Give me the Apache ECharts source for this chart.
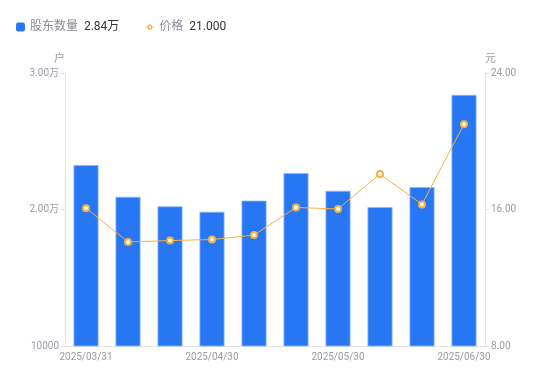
<!DOCTYPE html>
<html><head><meta charset="utf-8">
<script src="https://cdn.jsdelivr.net/npm/echarts@6/dist/echarts.min.js"></script>
<style>html,body{margin:0;padding:0;background:#fff}#c{width:550px;height:381px}</style>
</head><body><div id="c"></div>
<script>
var categories = ['2025/03/31','2025/04/10','2025/04/20','2025/04/30','2025/05/10','2025/05/20','2025/05/30','2025/06/10','2025/06/20','2025/06/30'];
var holders = [23250, 20930, 20230, 19830, 20650, 22670, 21370, 20180, 21640, 28400];
var prices = [16.08, 14.10, 14.18, 14.24, 14.50, 16.12, 16.03, 18.08, 16.30, 21.00];
var leftTicks = [10000, 20000, 30000];
var rightTicks = [8, 16, 24];

var chart = echarts.init(document.getElementById('c'));
var font = 'Roboto, "Noto Sans CJK SC", sans-serif';
var grayTxt = '#9a9aa6';
chart.setOption({
  animation: false,
  textStyle: {fontFamily: font},
  legend: {
    left: 11, top: 16, itemWidth: 9, itemHeight: 9, itemGap: 26,
    data: [
      {name: '股东数量', icon: 'roundRect', itemStyle: {color: '#2777F5', borderWidth: 0}},
      {name: '价格', icon: 'path://M0,4 L3,4 A3,3 0 1 1 9,4 L12,4 L12,5 L9,5 A3,3 0 1 1 3,5 L0,5 Z M4.5,4.5 A1.5,1.5 0 1 0 7.5,4.5 A1.5,1.5 0 1 0 4.5,4.5 Z', itemStyle: {color: '#F8B03F', borderWidth: 0}}
    ],
    formatter: function (n) {
      if (n === '股东数量') return '{a|' + n + '}  {b|' + (holders[holders.length-1]/10000).toFixed(2) + '万}';
      return '{a|' + n + '}  {b|' + prices[prices.length-1].toFixed(3) + '}';
    },
    textStyle: {rich: {a: {color: '#8a8a98', fontSize: 12, fontFamily: font}, b: {color: '#333', fontSize: 12, fontFamily: font}}}
  },
  grid: {left: 65, right: 65, top: 73, bottom: 35},
  xAxis: {
    type: 'category', data: categories,
    axisLine: {lineStyle: {color: '#e3e3e3'}},
    axisTick: {show: false},
    axisLabel: {color: grayTxt, fontSize: 10, interval: 2, margin: 6, fontFamily: font}
  },
  yAxis: [
    {
      type: 'value', min: leftTicks[0], max: leftTicks[2], interval: 10000,
      name: '户', nameGap: 8, nameTextStyle: {color: grayTxt, fontSize: 11, align: 'right'},
      axisLine: {show: true, lineStyle: {color: '#e3e3e3'}},
      axisTick: {show: true, length: 4, lineStyle: {color: '#e3e3e3'}},
      splitLine: {show: false},
      axisLabel: {color: grayTxt, fontSize: 10, margin: 6, fontFamily: font,
        formatter: function (v) { return v > 10000 ? (v/10000).toFixed(2) + '万' : v; }}
    },
    {
      type: 'value', min: rightTicks[0], max: rightTicks[2], interval: 8,
      name: '元', nameGap: 8, nameTextStyle: {color: grayTxt, fontSize: 11, align: 'left'},
      axisLine: {show: true, lineStyle: {color: '#e3e3e3'}},
      axisTick: {show: true, length: 4, lineStyle: {color: '#e3e3e3'}},
      splitLine: {show: false},
      axisLabel: {color: grayTxt, fontSize: 10, margin: 6, fontFamily: font,
        formatter: function (v) { return v.toFixed(2); }}
    }
  ],
  series: [
    {
      name: '股东数量', type: 'bar', data: holders, barWidth: 25, yAxisIndex: 0,
      itemStyle: {color: '#2777F5', borderColor: '#8DB6FA', borderWidth: 0.8}
    },
    {
      name: '价格', type: 'line', data: prices, yAxisIndex: 1,
      symbol: 'circle', symbolSize: 6,
      lineStyle: {color: '#F8B03F', width: 1},
      itemStyle: {color: '#fff', borderColor: '#F8B03F', borderWidth: 2}
    }
  ]
});
</script></body></html>
